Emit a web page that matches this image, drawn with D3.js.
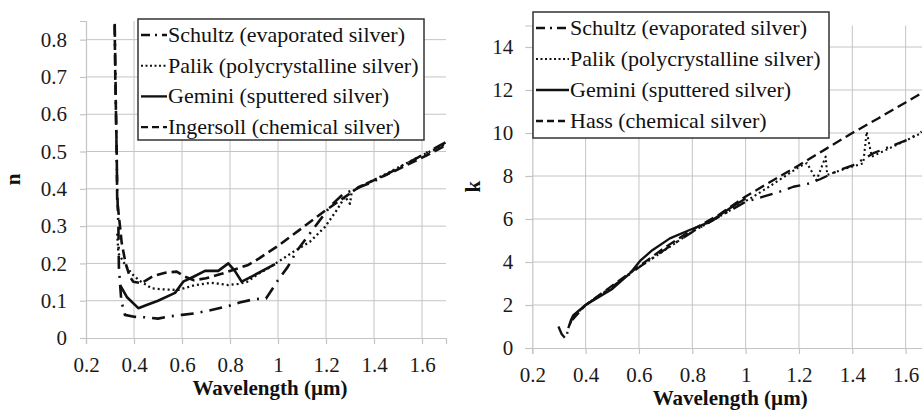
<!DOCTYPE html>
<html><head><meta charset="utf-8">
<script src="https://cdn.jsdelivr.net/npm/d3@7"></script>
<style>
html,body{margin:0;padding:0;background:#fff;}
svg{display:block;}
</style></head>
<body>
<svg id="c" width="922" height="410"></svg>
<script>
// ---- data: refractive index n (left) ----
const nSchultz = [[0.318,0.92],[0.325,0.6],[0.330,0.4],[0.335,0.3],[0.337,0.19],[0.347,0.1],[0.362,0.062],[0.40,0.057],[0.46,0.055],[0.50,0.052],[0.55,0.058],[0.60,0.062],[0.65,0.066],[0.71,0.073],[0.79,0.085],[0.84,0.095],[0.90,0.104],[0.95,0.106],[0.975,0.13],[1.0,0.155],[1.04,0.19],[1.08,0.235],[1.15,0.295],[1.22,0.355],[1.27,0.385],[1.33,0.402],[1.40,0.42],[1.50,0.455],[1.60,0.49],[1.70,0.525]];
const nPalik = [[0.330,0.28],[0.335,0.227],[0.36,0.2],[0.39,0.173],[0.42,0.155],[0.474,0.133],[0.53,0.13],[0.585,0.129],[0.654,0.142],[0.724,0.148],[0.793,0.142],[0.835,0.145],[0.87,0.15],[0.925,0.175],[0.96,0.187],[1.064,0.231],[1.133,0.258],[1.196,0.298],[1.245,0.343],[1.279,0.379],[1.30,0.36],[1.307,0.392],[1.34,0.405],[1.45,0.44],[1.60,0.49],[1.70,0.52]];
const nGemini = [[0.342,0.142],[0.37,0.11],[0.418,0.08],[0.45,0.088],[0.50,0.10],[0.571,0.121],[0.605,0.151],[0.65,0.165],[0.696,0.18],[0.751,0.18],[0.793,0.2],[0.82,0.18],[0.849,0.151],[0.90,0.168],[0.9875,0.198]];
const nIngersoll = [[0.318,0.92],[0.322,0.7],[0.328,0.5],[0.330,0.37],[0.349,0.254],[0.365,0.2],[0.383,0.164],[0.397,0.151],[0.43,0.147],[0.48,0.166],[0.53,0.175],[0.578,0.178],[0.61,0.165],[0.65,0.155],[0.70,0.16],[0.765,0.172],[0.876,0.196],[0.92,0.213],[1.0,0.247],[1.09,0.29],[1.20,0.343],[1.29,0.383],[1.34,0.406],[1.48,0.446],[1.62,0.49],[1.70,0.517]];
// ---- data: extinction coefficient k (right) ----
const kSchultz = [[0.298,1.0],[0.31,0.65],[0.326,0.42],[0.335,0.9],[0.35,1.4],[0.40,2.0],[0.50,2.85],[0.60,3.75],[0.70,4.6],[0.80,5.4],[0.90,6.1],[1.0,6.8],[1.066,7.04],[1.128,7.27],[1.179,7.5],[1.241,7.66],[1.279,7.85],[1.353,8.28],[1.404,8.51],[1.479,9.06],[1.604,9.67],[1.66,10.06]];
const kPalik = [[0.35,1.4],[0.40,2.0],[0.50,2.85],[0.579,3.6],[0.63,4.0],[0.691,4.5],[0.79,5.33],[0.90,6.1],[1.029,7.04],[1.10,7.6],[1.204,8.45],[1.23,8.6],[1.266,7.81],[1.30,8.9],[1.306,8.05],[1.379,8.36],[1.441,8.59],[1.454,10.06],[1.473,8.9],[1.55,9.35],[1.66,10.0]];
const kGemini = [[0.335,0.92],[0.345,1.3],[0.354,1.53],[0.40,2.0],[0.50,2.75],[0.566,3.47],[0.604,4.05],[0.65,4.55],[0.716,5.1],[0.79,5.49],[0.866,5.87],[0.941,6.5],[1.0,6.95]];
const kHass = [[0.35,1.3],[0.40,2.0],[0.50,2.9],[0.60,3.8],[0.70,4.7],[0.80,5.5],[0.90,6.2],[1.0,7.05],[1.10,7.78],[1.20,8.5],[1.30,9.25],[1.40,10.0],[1.50,10.7],[1.60,11.42],[1.70,12.15]];

const xTicks = [0.2,0.4,0.6,0.8,1,1.2,1.4,1.6];
const xTickLabels = ["0.2","0.4","0.6","0.8","1","1.2","1.4","1.6"];
const nTicks = [0,0.1,0.2,0.3,0.4,0.5,0.6,0.7,0.8];
const nTickLabels = ["0","0.1","0.2","0.3","0.4","0.5","0.6","0.7","0.8"];
const kTicks = [0,2,4,6,8,10,12,14];
const kTickLabels = ["0","2","4","6","8","10","12","14"];
const leftNames = ["Schultz (evaporated silver)","Palik (polycrystalline silver)","Gemini (sputtered silver)","Ingersoll (chemical silver)"];
const rightNames = ["Schultz (evaporated silver)","Palik (polycrystalline silver)","Gemini (sputtered silver)","Hass (chemical silver)"];
const xTitle = "Wavelength (\u00b5m)";

const FONT = '"Liberation Serif", "Times New Roman", serif';
const styles = [
  {dash:"13,7,2,7", w:2.6},
  {dash:"2,3", w:2.3},
  {dash:null, w:2.6},
  {dash:"10,5", w:2.6}
];
const legDash = ["9,5,2,5","2,2.5",null,"7,4"];
const GRID = "#c4c4c4";
const FS = 21;

const svg = d3.select("#c");

function panel(cfg){
  const x = d3.scaleLinear().domain([0.2,1.7]).range([cfg.x0, cfg.x1]);
  const y = d3.scaleLinear().domain(cfg.ydom).range([cfg.yb, cfg.yt]);
  const g = svg.append("g");
  g.selectAll(".gh").data(cfg.yTicks.filter(v=>v>cfg.ydom[0])).enter().append("line")
    .attr("x1",cfg.x0).attr("x2",cfg.x1).attr("y1",d=>y(d)).attr("y2",d=>y(d))
    .attr("stroke",GRID).attr("stroke-width",1);
  g.selectAll(".gv").data(xTicks.filter(v=>v>0.2)).enter().append("line")
    .attr("x1",d=>x(d)).attr("x2",d=>x(d)).attr("y1",cfg.yt).attr("y2",cfg.yb)
    .attr("stroke",GRID).attr("stroke-width",1);
  const ax = d3.axisBottom(x).tickValues(xTicks).tickSize(6).tickPadding(cfg.xpad)
    .tickFormat((d,i)=>xTickLabels[i]);
  const gx = g.append("g").attr("transform",`translate(0,${cfg.yb})`).call(ax);
  const ay = d3.axisLeft(y).tickValues(cfg.yTicks).tickSize(cfg.ytick).tickPadding(cfg.ypad)
    .tickFormat((d,i)=>cfg.yLabels[i]);
  const gy = g.append("g").attr("transform",`translate(${cfg.x0},0)`).call(ay);
  [gx,gy].forEach(a=>{
    a.attr("font-family",null).attr("font-size",null);
    a.select(".domain").attr("stroke",GRID).attr("stroke-width",1.2);
    a.selectAll(".tick line").attr("stroke",GRID).attr("stroke-width",1.2);
    a.selectAll(".tick text").style("font-size",FS+"px").attr("fill","#1a1a1a")
      .style("font-family",FONT);
  });
  const cid = "clip"+cfg.id;
  svg.append("clipPath").attr("id",cid).append("rect")
    .attr("x",cfg.x0).attr("y",cfg.yt).attr("width",cfg.x1-cfg.x0).attr("height",cfg.yb-cfg.yt);
  const lineL = d3.line().x(d=>x(d[0])).y(d=>y(d[1]));
  const lg = g.append("g").attr("clip-path",`url(#${cid})`);
  cfg.series.forEach((s,i)=>{
    lg.append("path").datum(s).attr("d",lineL).attr("fill","none")
      .attr("stroke","#111").attr("stroke-width",styles[i].w*cfg.wscale)
      .attr("stroke-linejoin","round")
      .attr("stroke-dasharray",styles[i].dash);
  });
  g.append("text").attr("x",(cfg.x0+Math.min(cfg.x1,922))/2 + cfg.xtdx).attr("y",cfg.xty)
    .attr("text-anchor","middle").style("font-weight","bold").style("font-size",FS+"px")
    .style("font-family",FONT).attr("fill","#111").text(xTitle);
  g.append("text").attr("transform",`translate(${cfg.ytx},${(cfg.yt+cfg.yb)/2}) rotate(-90)`)
    .attr("text-anchor","middle").style("font-weight","bold").style("font-size",FS+"px")
    .style("font-family",FONT).attr("fill","#111").text(cfg.ytitle);
  const L = cfg.legend;
  const lgd = g.append("g");
  lgd.append("rect").attr("x",L.x).attr("y",L.y).attr("width",L.w).attr("height",L.h)
    .attr("fill","#fff").attr("stroke","#333").attr("stroke-width",1.5);
  cfg.names.forEach((nm,i)=>{
    const by = L.b0 + i*L.dy;
    lgd.append("line").attr("x1",L.x+3).attr("x2",L.x+L.sw).attr("y1",by-7).attr("y2",by-7)
      .attr("stroke","#111").attr("stroke-width",styles[i].w*0.9)
      .attr("stroke-dasharray",legDash[i]);
    lgd.append("text").attr("x",L.x+L.sw+1).attr("y",by).style("font-size","22px")
      .style("font-family",FONT).attr("fill","#111").text(nm);
  });
}

panel({id:"L", x0:86, x1:446, ydom:[0,0.85], yb:338, yt:21, yTicks:nTicks, yLabels:nTickLabels,
  ytick:6, ypad:13, xpad:13, series:[nSchultz,nPalik,nGemini,nIngersoll], wscale:1,
  xty:395, xtdx:4, ytx:20, ytitle:"n",
  names:leftNames, legend:{x:138,y:19,w:286,h:121,b0:42,dy:30.7,sw:29}});
panel({id:"R", x0:532.3, x1:932.3, ydom:[0,15], yb:348, yt:25.5, yTicks:kTicks, yLabels:kTickLabels,
  ytick:7, ypad:12, xpad:13, series:[kSchultz,kPalik,kGemini,kHass], wscale:0.9,
  xty:405, xtdx:3, ytx:480, ytitle:"k",
  names:rightNames, legend:{x:533,y:12,w:296,h:126,b0:35,dy:31,sw:36}});
</script>
</body></html>
